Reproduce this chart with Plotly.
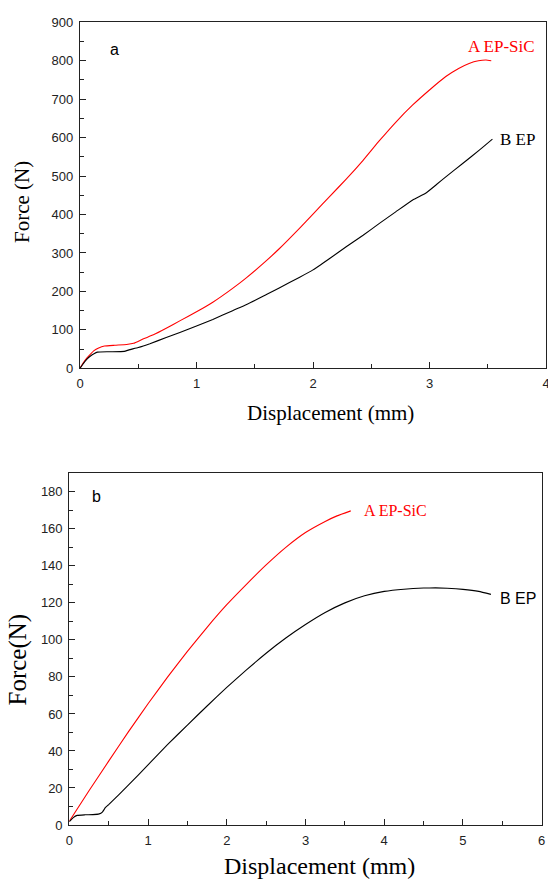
import plotly.graph_objects as go

# Panel a data
a_red_x = [0, 0.03, 0.06, 0.09, 0.12, 0.16, 0.21, 0.3, 0.4, 0.46, 0.54, 0.63, 0.74, 0.86, 1.0,
           1.14, 1.31, 1.43, 1.6, 1.71, 1.89, 2.0, 2.14, 2.285, 2.43, 2.57, 2.71, 2.856, 3.0,
           3.14, 3.25, 3.34, 3.42, 3.485, 3.53]
a_red_y = [0, 15, 27, 37, 46, 53, 58, 60, 62, 65, 76, 87, 104, 124, 147,
           172, 208, 236, 280, 311, 366, 401, 446, 492, 541, 592, 640, 685, 724,
           759, 780, 793, 800, 802, 800]
a_blk_x = [0, 0.03, 0.06, 0.09, 0.12, 0.15, 0.25, 0.38, 0.42, 0.5, 0.6, 0.74, 0.857, 1.0, 1.14,
           1.31, 1.43, 1.6, 1.71, 1.886, 2.0, 2.14, 2.285, 2.43, 2.57, 2.71, 2.856, 2.97, 3.06,
           3.14, 3.29, 3.43, 3.54]
a_blk_y = [0, 13, 24, 32, 38, 42, 43, 44, 48, 54, 64, 80, 93, 110, 127,
           150, 166, 192, 209, 237, 256, 285, 316, 346, 377, 407, 438, 456, 478,
           498, 534, 568, 596]

# Panel b data
b_red_x = [0, 0.25, 0.5, 0.75, 1.0, 1.25, 1.5, 1.75, 2.0, 2.25, 2.5, 2.75, 3.0, 3.25, 3.4, 3.575]
b_red_y = [2, 18.5, 34.5, 50.3, 65.5, 80, 93.8, 106.8, 119, 130, 140.5, 150, 158, 164, 167, 169.7]
b_blk_x = [0, 0.05, 0.1, 0.2, 0.3, 0.38, 0.42, 0.46, 0.5, 0.75, 1.0, 1.25, 1.5, 1.75, 2.0,
           2.25, 2.5, 2.75, 3.0, 3.25, 3.5, 3.75, 4.0, 4.25, 4.5, 4.65, 4.8, 5.0, 5.2, 5.355]
b_blk_y = [1.8, 4, 5.2, 5.5, 5.6, 6.0, 7, 9.5, 11, 21.5, 32.5, 43.5, 54, 64.3, 74.3,
           83.8, 92.8, 101, 108.3, 114.8, 120, 123.8, 126.2, 127.4, 128, 128.1, 127.9, 127.3, 126.2, 124.6]

W, H = 548, 880
SANS = "Liberation Sans"
SERIF = "Liberation Serif"

fig = go.Figure()
line_kw = dict(width=1.1, shape="spline", smoothing=0.4)
fig.add_trace(go.Scatter(x=a_red_x, y=a_red_y, mode="lines", line=dict(color="#ff0000", **line_kw),
                         xaxis="x", yaxis="y", showlegend=False))
fig.add_trace(go.Scatter(x=a_blk_x, y=a_blk_y, mode="lines", line=dict(color="#000000", **line_kw),
                         xaxis="x", yaxis="y", showlegend=False))
fig.add_trace(go.Scatter(x=b_red_x, y=b_red_y, mode="lines", line=dict(color="#ff0000", **line_kw),
                         xaxis="x2", yaxis="y2", showlegend=False))
fig.add_trace(go.Scatter(x=b_blk_x, y=b_blk_y, mode="lines", line=dict(color="#000000", **line_kw),
                         xaxis="x2", yaxis="y2", showlegend=False))

def ax(rng, dtick, domain, anchor, minor_dtick):
    return dict(range=rng, dtick=dtick, tick0=0, domain=domain, anchor=anchor, automargin=False,
                showgrid=False, zeroline=False, showline=True, linecolor="#222", linewidth=1.2,
                mirror=True, ticks="inside", ticklen=6, tickwidth=1.2, tickcolor="#222",
                tickfont=dict(family=SANS, size=13, color="#222"),
                ticklabeloverflow="allow",
                minor=dict(dtick=minor_dtick, ticks="inside", ticklen=4, tickwidth=1, tickcolor="#222"),
                fixedrange=True)

fig.update_layout(
    width=W, height=H, margin=dict(l=0, r=0, t=0, b=0, autoexpand=False),
    paper_bgcolor="white", plot_bgcolor="white",
    xaxis=ax([0, 4], 1, [80 / W, 546 / W], "y", 0.5),
    yaxis=ax([0, 900], 100, [1 - 368.3 / H, 1 - 22.3 / H], "x", 50),
    xaxis2=ax([0, 6], 1, [69.3 / W, 541.7 / W], "y2", 0.5),
    yaxis2=ax([0, 190], 20, [1 - 825 / H, 1 - 473.3 / H], "x2", 10),
)
fig.update_yaxes(ticklabelstandoff=3)
fig.update_xaxes(ticklabelstandoff=3)

def txt(s, x, y, xref, yref, font, size, color="#000", xanchor="left", angle=0):
    fig.add_annotation(text=s, x=x, y=y, xref=xref, yref=yref, showarrow=False,
                       font=dict(family=font, size=size, color=color),
                       xanchor=xanchor, yanchor="middle", textangle=angle)

# Panel a labels
txt("a", 0.24, 828, "x", "y", SANS, 16)
txt("A EP-SiC", 3.31, 837, "x", "y", SERIF, 17, "#ff0000")
txt("B EP", 3.585, 594, "x", "y", SERIF, 17)
# Panel b labels
txt("b", 0.34, 177.6, "x2", "y2", SANS, 16, xanchor="center")
txt("A EP-SiC", 3.715, 170, "x2", "y2", SERIF, 16, "#ff0000")
txt("B EP", 5.44, 122.4, "x2", "y2", SANS, 16)

# Axis titles
txt("Force (N)", 22 / W, 1 - 202 / H, "paper", "paper", SERIF, 21, xanchor="center", angle=-90)
txt("Displacement (mm)", 330 / W, 1 - 413 / H, "paper", "paper", SERIF, 21, xanchor="center")
txt("Force(N)", 17.5 / W, 1 - 660 / H, "paper", "paper", SERIF, 25, xanchor="center", angle=-90)
txt("Displacement (mm)", 319 / W, 1 - 866 / H, "paper", "paper", SERIF, 24, xanchor="center")

fig.write_html("out.html", config={"displayModeBar": False},
               post_script="document.body.style.margin='0px';document.body.style.overflow='hidden';")
